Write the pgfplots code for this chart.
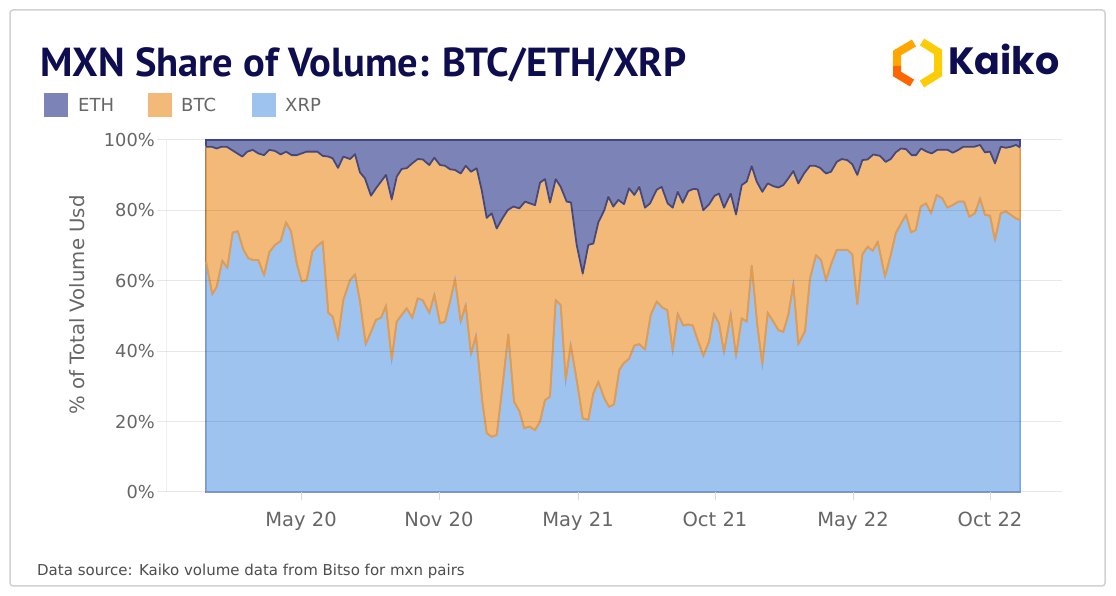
\documentclass[border=0pt]{standalone}
\usepackage{fontspec}
\setmainfont{DejaVu Sans}
\newfontfamily\titlefont{PT Sans}
\newfontfamily\logofont{Poppins}
\usepackage{pgfplots}
\pgfplotsset{compat=1.18}
\usepackage{pgfplotstable}

\definecolor{ethfill}{HTML}{7C83B6}
\definecolor{ethline}{HTML}{414886}
\definecolor{btcfill}{HTML}{F2B978}
\definecolor{btcline}{HTML}{E49C4C}
\definecolor{xrpfill}{HTML}{9FC3EF}
\definecolor{xrpline}{HTML}{7BA5EA}
\definecolor{txtgrey}{HTML}{666666}
\definecolor{srcgrey}{HTML}{4D4D4D}
\definecolor{navy}{HTML}{0D0D4F}
\definecolor{cardgrey}{HTML}{D2D2D2}

% XRP share (top of the light blue area)
\pgfplotstableread{
x y
0 65.4
6.3 56.2
10.7 58.3
16.3 65.7
21.3 63.7
26.7 73.7
31.7 74.1
37.3 68.9
42.3 66.4
47.3 65.9
52.3 65.9
58 61.6
63.3 68.1
69 70.2
74.7 71.3
80 76.6
85 74.1
90.7 65.0
95.7 59.8
100.7 60.2
106.3 68.3
111.3 69.9
116.7 71.1
122.3 50.9
126.7 49.8
132 43.7
137.3 54.5
144 60.2
149 61.8
154 54.1
159.7 42.0
165 45.5
170 48.9
175 49.5
180 52.9
185.7 37.7
190.7 48.4
195.7 50.3
200.7 52.2
206.3 49.5
211.7 55.0
216.7 54.5
223.3 50.9
228.3 56.0
234 47.9
239 48.4
244 54.1
249 60.4
254.7 48.4
259.7 53.1
265 39.2
270 44.4
276.3 25.7
280.7 16.7
285.7 15.7
290.7 16.2
296.3 29.5
302.3 44.8
308 25.7
313.3 23.0
318.3 18.1
323.3 18.6
329 17.6
334 20.0
339 26.1
344 27.1
349.7 54.5
354.7 53.1
359.7 31.8
364.7 41.8
370.7 31.8
376.7 20.9
382.3 20.5
387.3 28.0
392.3 31.3
398.3 26.6
403 24.2
408 24.9
413.3 34.7
418 36.7
423 37.8
428.3 41.6
433.3 42.0
439 40.5
444.7 50.3
450.7 54.1
456.3 52.4
461.3 51.7
466.7 40.1
471.7 50.6
477.3 47.3
482.3 47.6
486.7 47.3
492.3 42.7
497.3 38.7
503 42.7
508 50.6
513 47.9
518 39.7
524.7 50.6
530 38.7
535.7 49.3
540.7 48.4
545.7 64.3
551.3 47.4
556.3 36.3
561.7 50.9
567.3 48.4
572.3 46.0
577.3 45.5
582.3 50.3
587.3 59.0
592.3 42.0
599 45.7
604 60.7
610 67.3
615 65.9
620 60.2
625.7 65.2
630.7 68.8
635.7 68.8
641.3 68.8
646.3 67.5
651.3 53.3
656.3 67.5
661.7 69.7
666.7 68.5
671.7 71.1
679 61.2
684.7 67.3
689.7 73.5
695 76.3
700 78.7
705 73.8
709.7 74.4
714.7 81.1
720 82.0
725 79.2
730.7 84.4
736.3 83.4
741.3 80.8
746.7 81.5
752.3 82.5
758 82.5
763.3 78.2
769 79.2
774 83.4
779 78.7
784 78.5
789 71.6
794.7 79.2
800 79.7
805 78.7
810 77.7
814 77.3
}\xrp

% XRP + BTC share (top of the orange area)
\pgfplotstableread{
x y
0 98.1
5.7 98.1
10.7 97.6
15.7 98.1
20.7 98.1
25.7 97.2
31.3 96.2
36.3 95.3
41.3 96.7
46.7 97.2
52.3 96.2
58 95.7
63.3 97.2
69 96.9
74.7 95.9
80 96.7
85.7 95.7
90.7 95.7
95.7 96.2
100.7 96.7
106.3 96.7
111.3 96.7
116.7 95.5
122.3 95.3
126.7 94.8
132 92.1
137.3 95.3
144 94.6
149 96.0
154 90.8
159 89.1
165 84.2
170 86.3
175 88.2
180 90.1
185.7 83.2
190.7 89.6
195.7 91.8
200.7 92.0
206.3 93.4
211.7 94.6
216.7 94.5
223.3 92.9
228.3 95.0
234 92.9
239 92.7
244 91.7
249 91.5
254.7 90.5
259.7 92.7
265 91.0
270.7 92.0
275.7 85.8
280.7 77.9
285.7 79.2
290.7 74.9
296.3 77.7
301.7 80.1
307.3 81.1
313.3 80.6
319 82.5
324 82.0
329 81.5
334 87.9
339 88.9
344 82.3
349.7 88.9
354.7 86.7
360.7 82.5
365 82.3
370.7 70.2
376.7 62.1
382.3 70.2
387.3 70.6
392.3 76.6
398.3 80.1
402.3 83.9
407.3 81.1
412.3 83.0
418 81.8
423 86.3
428.3 84.4
433.3 86.7
439 80.8
444 82.0
450.7 85.9
455.7 86.7
461.7 82.0
466.7 80.8
471.7 85.3
476.7 82.2
482.3 85.5
487.3 86.1
491.7 86.0
497.3 80.1
503 81.7
508.3 84.1
513 84.8
518 80.8
524.7 84.8
530 78.9
535.7 87.2
540.7 88.2
545.7 92.6
550.7 88.2
556.3 85.3
561.7 87.7
567.3 86.9
572.3 86.5
577.3 87.2
582.3 89.1
587.3 91.2
592.3 87.7
598 90.5
604 92.7
609 92.7
614 92.1
620 90.5
625 91.0
630.7 93.8
635.7 94.6
641.3 94.3
646.3 93.1
651.3 90.1
656.3 94.3
661.7 94.5
667.3 95.9
674 95.5
679.7 93.8
684.7 94.6
689.7 96.5
695 97.6
700 97.4
705.7 95.7
710 95.7
715 97.6
720.7 96.7
725.7 96.2
731.3 97.2
736.7 97.2
741.7 97.2
746.7 96.4
752.3 97.2
757.3 98.1
763 98.1
768.3 98.1
774 98.6
779 96.5
784 96.7
789 93.4
794.7 98.1
800 97.8
805 98.1
810 98.6
814 97.9
}\cum

\begin{document}
\begin{tikzpicture}
\begin{scope}[x=1bp,y=1bp]
  \fill[white] (0,0) rectangle (1116,596);
  \path[use as bounding box] (0,0) rectangle (1116,596);
  \draw[cardgrey, line width=1.5bp, rounded corners=3bp] (10,10) rectangle (1105,586);
  % title
  \node[anchor=base west, inner sep=0pt, text=navy] at (40,519)
    {\titlefont\bfseries\fontsize{40.5bp}{44bp}\selectfont MXN Share of Volume: BTC/ETH/XRP};
  % logo
  \draw[line width=8bp, color=orange!70!yellow] (914,553) -- (897,543) -- (897,530);
  \draw[line width=8bp, color=orange!80!red] (897,530) -- (897,522) -- (912,513);
  \draw[line width=8bp, color=yellow!65!orange] (922,554) -- (938,544) -- (938,522) -- (922,512);
  \node[anchor=base west, inner sep=0pt, text=navy] at (948,521)
    {\logofont\bfseries\fontsize{38bp}{40bp}\selectfont Kaiko};
  % legend
  \fill[ethfill] (44,479) rectangle (68,503);
  \node[anchor=base west, inner sep=0pt, text=txtgrey] at (78,484.5) {\fontsize{18bp}{20bp}\selectfont ETH};
  \fill[btcfill] (148,479) rectangle (172,503);
  \node[anchor=base west, inner sep=0pt, text=txtgrey] at (181,484.5) {\fontsize{18bp}{20bp}\selectfont BTC};
  \fill[xrpfill] (252,479) rectangle (276,503);
  \node[anchor=base west, inner sep=0pt, text=txtgrey] at (285,484.5) {\fontsize{18bp}{20bp}\selectfont XRP};
  % y label
  \node[rotate=90, anchor=base, inner sep=0pt, text=txtgrey] at (84.5,291)
    {\fontsize{19.7bp}{22bp}\selectfont \% of Total Volume Usd};
  % source
  \node[anchor=base west, inner sep=0pt, text=srcgrey] at (37,20)
    {\fontsize{15bp}{17bp}\selectfont Data source: Kaiko volume data from Bitso for mxn pairs};
  \draw[black!6, line width=1bp] (166,104) -- (166,456);
\end{scope}
\begin{axis}[
  at={(157bp,104bp)}, anchor=south west,
  scale only axis, width=905bp, height=352bp,
  xmin=-49, xmax=856, ymin=0, ymax=100,
  clip=false, axis on top,
  axis line style={draw=none},
  ymajorgrids, grid style={black, opacity=0.09, line width=1bp},
  ytick={0,20,...,100}, yticklabels={0\%,20\%,40\%,60\%,80\%,100\%},
  ytick style={draw=none},
  xtick={95,233,372,509,647,784},
  xticklabels={May 20,Nov 20,May 21,Oct 21,May 22,Oct 22},
  xtick pos=bottom,
  xtick style={draw=black!15, line width=1bp},
  tick align=outside, major tick length=8bp,
  yticklabel style={font=\fontsize{17.8bp}{20bp}\selectfont, text=txtgrey, inner sep=0pt, xshift=6bp},
  xticklabel style={font=\fontsize{19.5bp}{22bp}\selectfont, text=txtgrey, anchor=base, inner sep=0pt, yshift=-27bp},
]
\addplot[fill=ethfill, draw=ethline, line width=1.5bp] coordinates {(0,100) (814,100)} \closedcycle;
\addplot[fill=btcfill, draw=btcline, line width=1.5bp] table {\cum} \closedcycle;
\addplot[fill=xrpfill, draw=xrpline, line width=1.5bp] table {\xrp} \closedcycle;
\addplot[draw=ethline, line width=1.8bp, line join=round] table {\cum};
\addplot[draw=btcline, line width=1.8bp, line join=round] table {\xrp};
\end{axis}
\end{tikzpicture}
\end{document}
